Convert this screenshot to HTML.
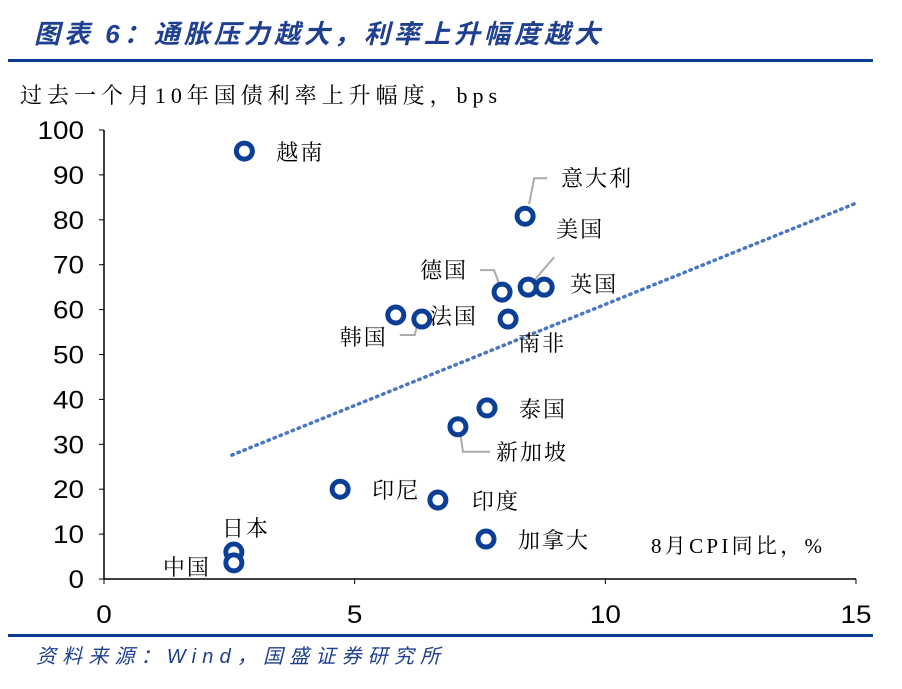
<!DOCTYPE html>
<html><head><meta charset="utf-8"><style>
body{margin:0;background:#fff;width:902px;height:684px;overflow:hidden;font-family:"Liberation Sans","Noto Sans CJK SC",sans-serif}
</style></head><body>
<svg width="902" height="684" viewBox="0 0 902 684">
<text x="34" y="43" font-size="26" font-weight="bold" font-style="italic" fill="#1f3f90" textLength="566" lengthAdjust="spacing">图表 6：通胀压力越大，利率上升幅度越大</text>
<rect x="8" y="59" width="865" height="3" fill="#0b3f96"/>
<text x="20" y="103" font-size="22" fill="#000" font-family="'Liberation Serif','Noto Serif CJK SC',serif" textLength="477" lengthAdjust="spacing">过去一个月10年国债利率上升幅度，bps</text>
<g id="axes"></g>
<g id="marks"></g>
<rect x="8" y="634" width="865" height="3" fill="#0b3f96"/>
<text x="36" y="663" font-size="20" font-style="italic" fill="#1f3f90" textLength="404" lengthAdjust="spacing">资料来源：Wind，国盛证券研究所</text>
<text x="651" y="553" font-size="21" fill="#000" font-family="'Liberation Serif','Noto Serif CJK SC',serif" textLength="171" lengthAdjust="spacing">8月CPI同比，%</text>
</svg>
<script>
const countries=["越南","意大利","德国","美国","英国","韩国","法国","南非","泰国","新加坡","印尼","印度","加拿大","日本","中国"];
const cpi=[2.8,8.4,7.94,8.46,8.78,5.82,6.34,8.06,7.64,7.06,4.71,6.66,7.62,2.59,2.59];
const bps=[95.3,80.8,63.9,65.0,65.0,58.8,57.9,57.9,38.1,33.9,20.0,17.6,8.9,6.0,3.6];
const xTicks=[0,5,10,15];
const yTicks=[0,10,20,30,40,50,60,70,80,90,100];
const trendX=[2.55,15];
const trendY=[27.6,83.7];
const labelPos=[[32,9],[36,-30],[-82,-14],[28,-50],[26,5],[-56,30],[8,5],[10,32],[32,9],[38,33],[32,9],[34,9],[32,9],[-12,-16],[-71,12]];
const X=v=>104+v*(752/15);
const Y=v=>579-v*4.49;
const NS="http://www.w3.org/2000/svg";
function mk(t,a,p){const e=document.createElementNS(NS,t);for(const k in a)e.setAttribute(k,a[k]);p.appendChild(e);return e;}
const ax=document.getElementById('axes'),mg=document.getElementById('marks');
const xl=mk('line',{x1:104,y1:579,x2:856,y2:579,stroke:'#000','stroke-width':1.5},ax);


const yl=mk('line',{x1:104,y1:Y(100),x2:104,y2:579,stroke:'#000','stroke-width':1.5},ax);


yTicks.forEach(v=>{
 const tk=mk('line',{x1:99,y1:Y(v),x2:104,y2:Y(v),stroke:'#000'},ax);
 
 
 const s=String(v);
 const t=mk('text',{x:84,y:Y(v)+9,'font-size':25,'text-anchor':'end',textLength:s.length*15.5,lengthAdjust:'spacingAndGlyphs'},ax);t.textContent=s;
 
 
});
xTicks.forEach(v=>{
 const tk=mk('line',{x1:X(v),y1:579,x2:X(v),y2:584,stroke:'#000'},ax);
 
 
 const s=String(v);
 const t=mk('text',{x:X(v),y:623,'font-size':25,'text-anchor':'middle',textLength:s.length*15.5,lengthAdjust:'spacingAndGlyphs'},ax);t.textContent=s;
 
 
});
const tr=mk('line',{x1:X(trendX[0]),y1:Y(trendY[0]),x2:X(trendX[1]),y2:Y(trendY[1]),stroke:'#4a76c2','stroke-width':3.5,'stroke-dasharray':'1.5 5','stroke-linecap':'round'},mg);


countries.forEach((c,i)=>{
 const cx=X(cpi[i]),cy=Y(bps[i]);
 const [dx,dy]=labelPos[i];
 if(i===1){const l=mk('polyline',{points:`${cx+4},${cy-12} ${cx+9},${cy-38} ${cx+22},${cy-38}`,fill:'none',stroke:'#aaa','stroke-width':2},mg);}
 if(i===3){const l=mk('polyline',{points:`${cx+2},${cy-2} ${cx+26},${cy-30}`,fill:'none',stroke:'#aaa','stroke-width':2},mg);}
 if(i===2){const l=mk('polyline',{points:`${cx-22},${cy-22} ${cx-8},${cy-22} ${cx-2},${cy-6}`,fill:'none',stroke:'#aaa','stroke-width':2},mg);}
 if(i===5){const l=mk('polyline',{points:`${cx+4},${cy+20} ${cx+19},${cy+20} ${cx+22},${cy+8}`,fill:'none',stroke:'#aaa','stroke-width':2},mg);}
 if(i===9){const l=mk('polyline',{points:`${cx+2},${cy+4} ${cx+5},${cy+25} ${cx+32},${cy+25}`,fill:'none',stroke:'#aaa','stroke-width':2},mg);}
 const p=mk('circle',{cx:cx,cy:cy,r:8,fill:'#fff',stroke:'#0b3f96','stroke-width':5},mg);
 
 
 const t=mk('text',{x:cx+dx,y:cy+dy,'font-size':22,'letter-spacing':2,'font-family':"'Liberation Serif','Noto Serif CJK SC',serif"},mg);t.textContent=c;
 
 
});
</script>
</body></html>
